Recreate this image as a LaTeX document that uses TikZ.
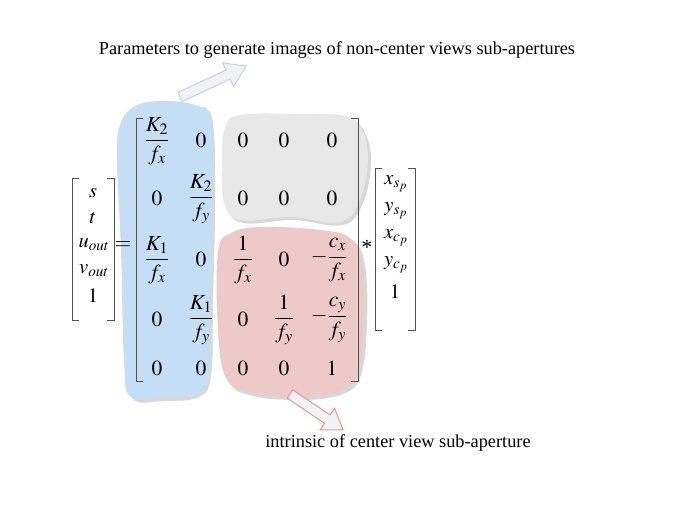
\documentclass[tikz,border=0pt]{standalone}
\usepackage{amsmath}
\usepackage{mathptmx}
\usepackage{fontspec}
\setmainfont{Liberation Serif}
\definecolor{blobblue}{RGB}{198,222,245}
\definecolor{blobgray}{RGB}{232,232,232}
\definecolor{blobpink}{RGB}{238,201,201}
\definecolor{shadowc}{RGB}{216,216,216}
\definecolor{bracketc}{RGB}{80,80,80}
\definecolor{arrblue}{RGB}{188,214,240}
\definecolor{arrpink}{RGB}{228,150,150}
\definecolor{arrfill}{RGB}{241,242,244}
\tikzset{
  ent/.style={inner sep=0pt, font=\fontsize{21.5}{26}\selectfont},
  vent/.style={inner sep=0pt, font=\fontsize{20.5}{25}\selectfont},
  caption/.style={inner sep=0pt, font=\fontsize{18.3}{22}\selectfont},
  brk/.style={draw=bracketc, line width=0.9pt},
}
\newcommand{\blockarrow}[5]{% L, w, h, hl
  (0,-#2) -- (#1-#4,-#2) -- (#1-#4,-#3) -- (#1,0) -- (#1-#4,#3) -- (#1-#4,#2) -- (0,#2) -- cycle}
\begin{document}
\begin{tikzpicture}[x=1pt,y=-1pt]
\useasboundingbox (0,0) rectangle (676,513);
\fill[white] (0,0) rectangle (676,513);
% ---- blobs
\def\blueblob{(120,125) (135,106) (165,101) (198,106) (210,120) (212,200) (210,300) (208,372) (196,394) (160,398) (130,396) (124,360) (121,250) (117,160)}
\def\grayblob{(225,128) (240,115) (300,114) (345,116) (362,130) (368,160) (360,200) (340,222) (290,217) (240,220) (224,202) (222,160)}
\def\pinkblob{(218,252) (231,233) (262,227) (320,230) (350,238) (362,262) (364,320) (358,372) (340,391) (300,397) (250,393) (226,378) (218,330)}
\fill[shadowc, shift={(3,3)}] plot[smooth cycle, tension=0.65] coordinates {\grayblob};
\fill[shadowc, shift={(3,3)}] plot[smooth cycle, tension=0.65] coordinates {\pinkblob};
\fill[shadowc, shift={(3,3)}] plot[smooth cycle, tension=0.65] coordinates {\blueblob};
\fill[blobblue] plot[smooth cycle, tension=0.65] coordinates {\blueblob};
\fill[blobgray] plot[smooth cycle, tension=0.65] coordinates {\grayblob};
\fill[blobpink] plot[smooth cycle, tension=0.65] coordinates {\pinkblob};
% ---- block arrows
\begin{scope}[shift={(180,97)}, rotate=25]
  \filldraw[fill=arrfill, draw=arrblue, line width=1pt] \blockarrow{73}{5}{13}{20}{};
\end{scope}
\begin{scope}[shift={(290,394)}, rotate=-34]
  \filldraw[fill=arrfill, draw=arrpink, line width=1pt] \blockarrow{64}{5}{13}{19}{};
\end{scope}
% ---- captions
\node[caption] (top) at (337,50) {Parameters to generate images of non-center views sub-apertures};
\node[caption] (bot) at (398,443) {intrinsic of center view sub-aperture};
% ---- left vector
\draw[brk] (79,178) -- (72,178) -- (72,320) -- (79,320);
\draw[brk] (107,178) -- (114,178) -- (114,320) -- (107,320);
\node[vent] (l1) at (93,193) {$s$};
\node[vent] (l2) at (93,218) {$t$};
\node[vent] (l3) at (94,245) {$u_{out}$};
\node[vent] (l4) at (94,271) {$v_{out}$};
\node[vent] (l5) at (93,296) {$1$};
\node[ent] (eq) at (123,246) {$=$};
% ---- big matrix
\draw[brk] (143,118) -- (136,118) -- (136,381) -- (143,381);
\draw[brk] (351,118) -- (358,118) -- (358,381) -- (351,381);
\node[ent] (m11) at (157,141) {$\dfrac{K_2}{f_x}$};
\node[ent] (m12) at (201,140) {$0$};
\node[ent] (m13) at (243,140) {$0$};
\node[ent] (m14) at (284,140) {$0$};
\node[ent] (m15) at (332,140) {$0$};
\node[ent] (m21) at (157,198) {$0$};
\node[ent] (m22) at (201,199) {$\dfrac{K_2}{f_y}$};
\node[ent] (m23) at (243,198) {$0$};
\node[ent] (m24) at (284,198) {$0$};
\node[ent] (m25) at (332,198) {$0$};
\node[ent] (m31) at (157,260) {$\dfrac{K_1}{f_x}$};
\node[ent] (m32) at (201,259) {$0$};
\node[ent] (m33) at (243,260) {$\dfrac{1}{f_x}$};
\node[ent] (m34) at (284,259) {$0$};
\node[ent] (m35) at (329,260) {$-\dfrac{c_x}{f_x}$};
\node[ent] (m41) at (157,319) {$0$};
\node[ent] (m42) at (201,320) {$\dfrac{K_1}{f_y}$};
\node[ent] (m43) at (243,319) {$0$};
\node[ent] (m44) at (284,320) {$\dfrac{1}{f_y}$};
\node[ent] (m45) at (329,320) {$-\dfrac{c_y}{f_y}$};
\node[ent] (m51) at (157,368) {$0$};
\node[ent] (m52) at (201,368) {$0$};
\node[ent] (m53) at (243,368) {$0$};
\node[ent] (m54) at (284,368) {$0$};
\node[ent] (m55) at (332,368) {$1$};
\node[ent, anchor=base] (star) at (367,254) {*};
% ---- right vector
\draw[brk] (382,168) -- (375,168) -- (375,330) -- (382,330);
\draw[brk] (408,168) -- (415,168) -- (415,330) -- (408,330);
\node[vent] (r1) at (396,184) {$x_{s_p}$};
\node[vent] (r2) at (396,211) {$y_{s_p}$};
\node[vent] (r3) at (396,238) {$x_{c_p}$};
\node[vent] (r4) at (396,265) {$y_{c_p}$};
\node[vent] (r5) at (395,292) {$1$};
\end{tikzpicture}
\end{document}
